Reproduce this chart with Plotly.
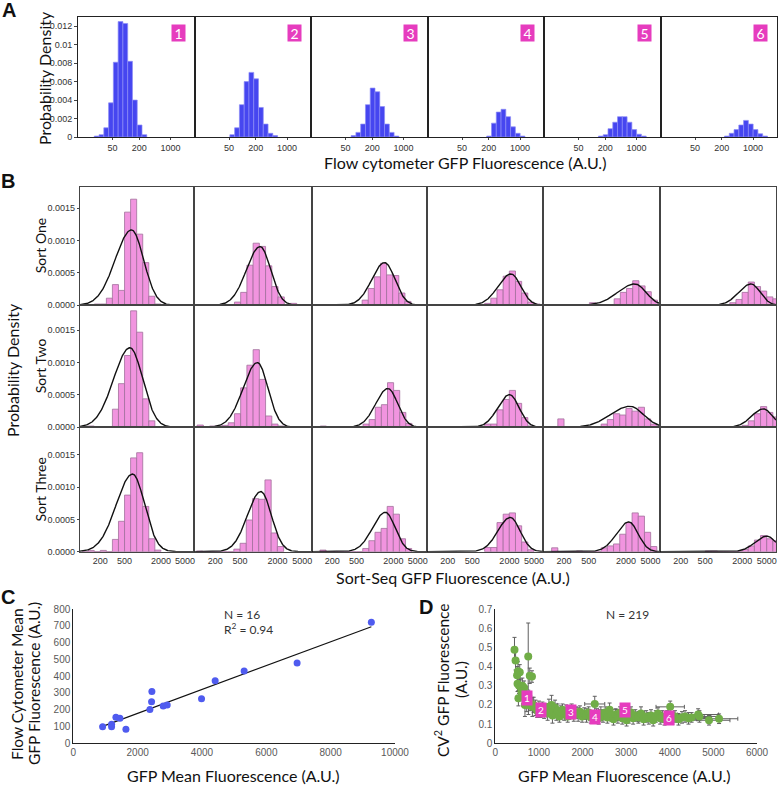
import numpy as np
import plotly.graph_objects as go

W, H = 778, 787

# ---------------- Panel A data (flow cytometer histograms) ----------------
A_BIN_EDGE0_LOG10 = 1.29      # log10 of lower edge of common bin 0
A_BIN_WIDTH_LOG10 = 0.107
A_FIRST_BIN = [0, 4, 5, 9, 8, 10]
A_DENSITY = [
    [0.0001, 0.00025, 0.001, 0.0037, 0.0081, 0.0125, 0.0123, 0.0082, 0.004, 0.0013, 0.00025],
    [0.00025, 0.001, 0.0035, 0.006, 0.007, 0.0063, 0.0032, 0.0014, 0.0004, 0.00015],
    [0.00015, 0.0005, 0.0014, 0.0035, 0.0053, 0.0049, 0.0033, 0.0014, 0.0005, 0.0001],
    [0.0001, 0.0015, 0.0027, 0.003, 0.0022, 0.0011, 0.0004, 0.0001],
    [0.0001, 0.00025, 0.0009, 0.0016, 0.0022, 0.0022, 0.0016, 0.0008, 0.0003, 0.0001],
    [0.0001, 0.0004, 0.0008, 0.0013, 0.0018, 0.0014, 0.0008, 0.00035, 0.0001],
]
A_XTICKS = [50, 200, 1000]
A_YTICKS = [0, 0.002, 0.004, 0.006, 0.008, 0.01, 0.012]
A_YTICKTEXT = ["0", "0.002", "0.004", "0.006", "0.008", "0.01", "0.012"]
A_LABELS = ["1", "2", "3", "4", "5", "6"]

# ---------------- Panel B data (Sort-Seq histograms, density x 1e-3) ----------------
B_ROWS = ["Sort One", "Sort Two", "Sort Three"]
B_BIN_WIDTH_LOG10 = 0.1
B_FIRST_EDGE_LOG10 = [
    [2.2, 2.41, 2.09, 2.9, 2.71, 3.1],
    [2.1, 2.01, 2.105, 2.9, 2.2, 2.9],
    [2.0, 2.0, 2.1, 2.9, 2.1, 2.7],
]
B_DENSITY_E3 = [
    [
        [0.02, 0.02, 0.11, 0.32, 0.23, 1.44, 1.64, 1.10, 0.66, 0.14, 0.02, 0, 0, 0.01],
        [0.01, 0, 0.05, 0.2, 0.62, 0.96, 0.91, 0.61, 0.29, 0.13, 0, 0.03],
        [0.01, 0, 0, 0, 0, 0, 0, 0.08, 0.26, 0.44, 0.65, 0.47, 0.46, 0.19, 0.06, 0.01],
        [0.03, 0.11, 0.24, 0.45, 0.53, 0.37, 0.19, 0.05, 0.02],
        [0.04, 0.01, 0, 0, 0.1, 0.2, 0.26, 0.38, 0.3, 0.21, 0.08],
        [0.04, 0.09, 0.2, 0.36, 0.29, 0.22, 0.13, 0.1],
    ],
    [
        [0.02, 0, 0.01, 0, 0.28, 0.675, 1.11, 1.8, 1.47, 0.44, 0.1],
        [0.035, 0, 0.02, 0.02, 0.03, 0.07, 0.21, 0.61, 0.96, 1.2, 0.74, 0.175, 0.05, 0.02],
        [0.02, 0, 0, 0, 0, 0, 0, 0.05, 0.12, 0.31, 0.35, 0.69, 0.57, 0.23, 0.06],
        [0.05, 0.05, 0.27, 0.43, 0.57, 0.37, 0.15, 0.02],
        [0.13, 0, 0, 0.01, 0.01, 0, 0, 0.05, 0.12, 0.21, 0.19, 0.29, 0.25, 0.31, 0.13, 0.05],
        [0.01, 0, 0, 0, 0.03, 0.1, 0.21, 0.32, 0.23, 0.16],
    ],
    [
        [0, 0.02, 0, 0.02, 0, 0.19, 0.47, 0.875, 1.45, 1.53, 0.7, 0.2, 0.025],
        [0.01, 0, 0, 0, 0, 0, 0.04, 0.13, 0.49, 0.82, 0.81, 1.11, 0.29, 0.08],
        [0.025, 0, 0, 0, 0, 0, 0, 0.05, 0.17, 0.3, 0.36, 0.7, 0.58, 0.2, 0.05],
        [0.065, 0.065, 0.45, 0.58, 0.6, 0.4, 0.15, 0.03],
        [0.06, 0, 0, 0, 0.01, 0, 0, 0, 0.06, 0.09, 0.12, 0.27, 0.45, 0.6, 0.55, 0.3, 0.08],
        [0.01, 0.01, 0, 0, 0, 0, 0.035, 0.09, 0.18, 0.25, 0.2, 0.17],
    ],
]
# fitted curves: peak fluorescence, peak density (x1e-3), left / right spread (decades)
B_FIT_PEAK = [
    [653, 1052, 1436, 2118, 2786, 2786],
    [615, 951, 1629, 2009, 2307, 4416],
    [679, 1079, 1479, 2065, 2223, 5012],
]
B_FIT_HEIGHT_E3 = [
    [1.165, 0.907, 0.66, 0.485, 0.33, 0.33],
    [1.23, 1.0, 0.6, 0.505, 0.325, 0.285],
    [1.2, 0.93, 0.61, 0.53, 0.46, 0.24],
]
B_FIT_SD_LEFT = [
    [0.27, 0.22, 0.21, 0.21, 0.28, 0.2],
    [0.27, 0.23, 0.2, 0.19, 0.31, 0.19],
    [0.27, 0.215, 0.21, 0.2, 0.2, 0.19],
]
B_FIT_SD_RIGHT = [
    [0.2, 0.17, 0.17, 0.16, 0.18, 0.15],
    [0.21, 0.17, 0.16, 0.155, 0.22, 0.15],
    [0.2, 0.17, 0.16, 0.16, 0.15, 0.15],
]
B_XTICKS = [200, 500, 2000, 5000]
B_YTICKS = [0, 0.0005, 0.001, 0.0015]

# ---------------- Panel C data ----------------
C_X = [911, 1190, 1190, 1325, 1449, 1636, 2381, 2433, 2443, 2795, 2919, 3986, 4410, 5311, 6957, 9265]
C_Y = [99, 113, 99, 155, 149, 83, 202, 248, 308, 222, 228, 266, 373, 431, 478, 721]
C_XTICKS = [0, 2000, 4000, 6000, 8000, 10000]

# ---------------- Panel D data ----------------
D_X = [440, 465, 755, 520, 560, 500, 790, 840, 510, 545, 580, 620, 660, 600, 530, 640, 700, 680,
       720, 760, 800, 850, 880, 920,
       960, 1000, 1040, 1080, 1120, 1150, 1200, 1230, 1260, 1290, 1310, 1340, 1370, 1400, 1430,
       1470, 1500, 1540, 1580, 1620, 1660, 1700, 1750, 1800, 1850, 1900, 1940, 1990, 2040, 2090,
       2140, 2190, 2280, 2320, 2370, 2420, 2470, 2520, 2570, 2620, 2660, 2710, 2760, 2810, 2860,
       2910, 2960, 3010, 3060, 3110, 3160, 3210, 3280, 3340, 3400, 3460, 3520, 3570, 3620, 3680,
       3730, 3780, 3830, 3880, 3940, 4010, 4060, 4120, 4200, 4280, 4350, 4430, 4500, 4650, 4680,
       4900, 5130]
D_Y = [0.487, 0.432, 0.452, 0.375, 0.37, 0.355, 0.352, 0.348, 0.31, 0.30, 0.295, 0.30, 0.29, 0.27,
       0.235, 0.26, 0.245, 0.2, 0.215, 0.2, 0.21, 0.19, 0.2, 0.185,
       0.17, 0.19, 0.165, 0.18, 0.16, 0.175, 0.155, 0.19, 0.17, 0.2, 0.145, 0.165, 0.185, 0.15,
       0.17, 0.14, 0.16, 0.175, 0.15, 0.165, 0.14, 0.155, 0.17, 0.145, 0.16, 0.15, 0.165, 0.14,
       0.155, 0.145, 0.16, 0.135, 0.205, 0.15, 0.13, 0.155, 0.14, 0.16, 0.135, 0.175, 0.145,
       0.125, 0.15, 0.14, 0.16, 0.13, 0.145, 0.12, 0.14, 0.16, 0.13, 0.145, 0.135, 0.155, 0.125,
       0.14, 0.13, 0.145, 0.12, 0.14, 0.155, 0.13, 0.14, 0.125, 0.14, 0.19, 0.13, 0.14, 0.125,
       0.135, 0.14, 0.13, 0.135, 0.15, 0.14, 0.12, 0.128]
D_EX = [40, 45, 60, 50, 50, 45, 60, 60, 60, 60, 60, 60, 55, 60, 50, 60, 70, 70, 70, 80, 80, 90, 90, 100,
        100, 100, 110, 110, 110, 120, 120, 120, 130, 130, 130, 140, 140, 140, 150, 150, 150, 160,
        160, 160, 170, 170, 180, 180, 190, 190, 200, 200, 210, 210, 220, 220, 230, 230, 240, 240,
        250, 250, 260, 260, 270, 270, 280, 280, 290, 290, 300, 300, 310, 310, 320, 320, 330, 330,
        340, 350, 350, 360, 360, 370, 370, 380, 380, 390, 390, 325, 410, 410, 420, 430, 440, 440,
        450, 470, 460, 480, 430]
D_EY = [0.065, 0.05, 0.175, 0.05, 0.04, 0.045, 0.04, 0.03, 0.04, 0.04, 0.04, 0.04, 0.035, 0.04, 0.04,
        0.04, 0.05, 0.06, 0.05, 0.05, 0.04, 0.05, 0.04, 0.04,
        0.035, 0.03, 0.03, 0.035, 0.03, 0.03, 0.035, 0.04, 0.03, 0.05, 0.04, 0.03, 0.04, 0.03, 0.035,
        0.03, 0.035, 0.03, 0.03, 0.035, 0.03, 0.03, 0.035, 0.03, 0.03, 0.035, 0.03, 0.03, 0.03,
        0.035, 0.03, 0.03, 0.04, 0.03, 0.03, 0.035, 0.03, 0.03, 0.03, 0.035, 0.03, 0.03, 0.03,
        0.035, 0.03, 0.03, 0.03, 0.03, 0.035, 0.03, 0.03, 0.03, 0.03, 0.035, 0.03, 0.03, 0.03,
        0.03, 0.03, 0.03, 0.03, 0.03, 0.03, 0.03, 0.03, 0.03, 0.03, 0.03, 0.03, 0.03, 0.03, 0.03,
        0.025, 0.03, 0.03, 0.025, 0.025]
D_LABEL_X = [720, 1048, 1724, 2279, 2981, 3978]
D_LABEL_Y = [0.237, 0.175, 0.165, 0.136, 0.172, 0.13]
D_LABELS = ["1", "2", "3", "4", "5", "6"]
D_XTICKS = [0, 1000, 2000, 3000, 4000, 5000, 6000]
D_YTICKS = [0, 0.1, 0.2, 0.3, 0.4, 0.5, 0.6, 0.7]

# ---------------- layout geometry (pixels) ----------------
A_COLS = [78, 194.5, 311, 427.5, 544, 660.5, 777]
A_TOP, A_BOT = 17, 137
A_XRANGE = [0.925, 3.537]
A_YRANGE = [0, 0.013]
B_COLS = [80, 194.3, 311.7, 427, 543.3, 660, 776]
B_ROW_EDGES = [187.3, 305.3, 427.3, 551.7]
B_XRANGE = [1.965, 3.851]
B_PX_PER_UNIT = 64.7e3
C_BOX = [73.3, 395, 609, 743.3]
D_BOX = [495.3, 757, 609, 743.3]

PINK = "#E63CBE"
TITLE_FONT = "Lato, Open Sans, sans-serif"
TICK_FONT = "Liberation Sans, Arial, sans-serif"


def xdom(x0, x1):
    return [x0 / W, x1 / W]


def ydom(y0, y1):
    return [1 - y1 / H, 1 - y0 / H]


fig = go.Figure()
layout = dict(width=W, height=H, margin=dict(l=0, r=0, t=0, b=0, pad=0, autoexpand=False),
              paper_bgcolor="white", plot_bgcolor="white", showlegend=False,
              font=dict(family=TICK_FONT, size=9, color="#333"))
counter = [0]


def new_axes(xa, ya):
    counter[0] += 1
    i = counter[0]
    kx = "xaxis" if i == 1 else f"xaxis{i}"
    ky = "yaxis" if i == 1 else f"yaxis{i}"
    rx = "x" if i == 1 else f"x{i}"
    ry = "y" if i == 1 else f"y{i}"
    xa["anchor"] = ry
    ya["anchor"] = rx
    xa["automargin"] = False
    ya["automargin"] = False
    layout[kx] = xa
    layout[ky] = ya
    return rx, ry


annotations = []

# ---------------- Panel A ----------------
for p in range(6):
    xa = dict(domain=xdom(A_COLS[p], A_COLS[p + 1]), range=A_XRANGE, showgrid=False, zeroline=False,
              showline=True, mirror=True, linecolor="#222", linewidth=1,
              tickmode="array", tickvals=list(np.log10(A_XTICKS)), ticktext=[str(t) for t in A_XTICKS],
              ticks="outside", ticklen=2, tickcolor="#444", tickfont=dict(size=9, color="#333"))
    ya = dict(domain=ydom(A_TOP, A_BOT), range=A_YRANGE, showgrid=False, zeroline=False,
              showline=True, mirror=True, linecolor="#222", linewidth=1,
              tickmode="array", tickvals=A_YTICKS, ticktext=A_YTICKTEXT,
              ticks="outside" if p == 0 else "", ticklen=3, tickcolor="#444",
              showticklabels=(p == 0), tickfont=dict(size=9, color="#333"))
    rx, ry = new_axes(xa, ya)
    dens = A_DENSITY[p]
    centers = [A_BIN_EDGE0_LOG10 + A_BIN_WIDTH_LOG10 * (A_FIRST_BIN[p] + k + 0.5) for k in range(len(dens))]
    fig.add_trace(go.Bar(x=centers, y=dens, width=A_BIN_WIDTH_LOG10, xaxis=rx, yaxis=ry,
                         marker=dict(color="#4646F0", line=dict(color="#8C8CF6", width=0.7)),
                         hoverinfo="skip"))
    annotations.append(dict(text=A_LABELS[p], x=(A_COLS[p + 1] - 16.5) / W, y=1 - 33 / H,
                            xref="paper", yref="paper", showarrow=False, bgcolor=PINK,
                            width=13, height=16, borderpad=0, xanchor="center", yanchor="middle",
                            font=dict(family=TITLE_FONT, size=14, color="white")))

# ---------------- Panel B ----------------
for r in range(3):
    y0, y1 = B_ROW_EDGES[r], B_ROW_EDGES[r + 1]
    yrange = [0, (y1 - y0) / B_PX_PER_UNIT]
    for c in range(6):
        xa = dict(domain=xdom(B_COLS[c], B_COLS[c + 1]), range=B_XRANGE, showgrid=False, zeroline=False,
                  showline=True, mirror=True, linecolor="#444", linewidth=1.2,
                  tickmode="array", tickvals=list(np.log10(B_XTICKS)), ticktext=[str(t) for t in B_XTICKS],
                  showticklabels=(r == 2), ticks="", tickfont=dict(size=9, color="#333"))
        ya = dict(domain=ydom(y0, y1), range=yrange, showgrid=False, zeroline=False,
                  showline=True, mirror=True, linecolor="#444", linewidth=1.2,
                  tickmode="array", tickvals=B_YTICKS, tickformat=".4f",
                  ticks="outside" if c == 0 else "", ticklen=2, tickcolor="#444",
                  showticklabels=(c == 0), tickfont=dict(size=9, color="#333"))
        rx, ry = new_axes(xa, ya)
        dens = [v * 1e-3 for v in B_DENSITY_E3[r][c]]
        centers = [B_FIRST_EDGE_LOG10[r][c] + B_BIN_WIDTH_LOG10 * (k + 0.5) for k in range(len(dens))]
        fig.add_trace(go.Bar(x=centers, y=dens, width=B_BIN_WIDTH_LOG10, xaxis=rx, yaxis=ry,
                             marker=dict(color="#F194DF", line=dict(color="#A2709C", width=0.8)),
                             hoverinfo="skip"))
        u = np.linspace(B_XRANGE[0], B_XRANGE[1], 300)
        mu = np.log10(B_FIT_PEAK[r][c])
        sd = np.where(u < mu, B_FIT_SD_LEFT[r][c], B_FIT_SD_RIGHT[r][c])
        curve = B_FIT_HEIGHT_E3[r][c] * 1e-3 * np.exp(-((u - mu) ** 2) / (2 * sd ** 2))
        fig.add_trace(go.Scatter(x=u, y=curve, mode="lines", xaxis=rx, yaxis=ry,
                                 line=dict(color="#111", width=1.4), hoverinfo="skip"))
    annotations.append(dict(text=B_ROWS[r], x=40 / W, y=1 - ((y0 + y1) / 2) / H, xref="paper", yref="paper",
                            showarrow=False, textangle=-90, xanchor="center", yanchor="middle",
                            font=dict(family=TITLE_FONT, size=14, color="#111")))

# ---------------- Panel C ----------------
xa = dict(domain=xdom(C_BOX[0], C_BOX[1]), range=[0, 10000], tickmode="array", tickvals=C_XTICKS,
          ticktext=[str(t) for t in C_XTICKS], showgrid=False, zeroline=False,
          showline=True, linecolor="#222", linewidth=1, ticks="", tickfont=dict(size=10, color="#595959"))
ya = dict(domain=ydom(C_BOX[2], C_BOX[3]), range=[0, 800], dtick=100, showgrid=False, zeroline=False,
          showline=True, linecolor="#222", linewidth=1, ticks="", tickfont=dict(size=10, color="#595959"))
rx, ry = new_axes(xa, ya)
coef = np.polyfit(C_X, C_Y, 1)
xs = np.array([min(C_X), max(C_X)])
fig.add_trace(go.Scatter(x=xs, y=np.polyval(coef, xs), mode="lines", xaxis=rx, yaxis=ry,
                         line=dict(color="#111", width=1.1), hoverinfo="skip"))
fig.add_trace(go.Scatter(x=C_X, y=C_Y, mode="markers", xaxis=rx, yaxis=ry,
                         marker=dict(color="#4F5BEF", size=7), hoverinfo="skip"))

# ---------------- Panel D ----------------
xa = dict(domain=xdom(D_BOX[0], D_BOX[1]), range=[0, 6000], tickmode="array", tickvals=D_XTICKS,
          ticktext=[str(t) for t in D_XTICKS], showgrid=False, zeroline=False,
          showline=True, linecolor="#222", linewidth=1, ticks="", tickfont=dict(size=10, color="#595959"))
ya = dict(domain=ydom(D_BOX[2], D_BOX[3]), range=[0, 0.7], tickmode="array",
          tickvals=D_YTICKS, ticktext=[f"{t:g}" for t in D_YTICKS],
          showgrid=False, zeroline=False,
          showline=True, linecolor="#222", linewidth=1, ticks="", tickfont=dict(size=10, color="#595959"))
rx_d, ry_d = new_axes(xa, ya)
fig.add_trace(go.Scatter(x=D_X, y=D_Y, mode="markers", xaxis=rx_d, yaxis=ry_d,
                         marker=dict(color="#70AD47", size=8),
                         error_x=dict(type="data", array=D_EX, color="#5f5f5f", thickness=1, width=2),
                         error_y=dict(type="data", array=D_EY, color="#5f5f5f", thickness=1, width=2),
                         hoverinfo="skip"))
for lx, ly, lt in zip(D_LABEL_X, D_LABEL_Y, D_LABELS):
    annotations.append(dict(text=lt, x=lx, y=ly, xref=rx_d, yref=ry_d, showarrow=False, bgcolor=PINK,
                            width=10, height=14, borderpad=0, xanchor="center", yanchor="middle",
                            font=dict(family=TITLE_FONT, size=10, color="white")))


# ---------------- text ----------------
def txt(t, x, y, size, angle=0, bold=False, family=TITLE_FONT, color="#111", xanchor="center"):
    annotations.append(dict(text=f"<b>{t}</b>" if bold else t, x=x / W, y=1 - y / H, xref="paper",
                            yref="paper", showarrow=False, textangle=angle, xanchor=xanchor,
                            yanchor="middle", font=dict(family=family, size=size, color=color)))


txt("A", 9, 10, 20, bold=True, family="Liberation Sans, Arial")
txt("B", 8, 181, 20, bold=True, family="Liberation Sans, Arial")
txt("C", 8, 597, 20, bold=True, family="Liberation Sans, Arial")
txt("D", 426, 607, 20, bold=True, family="Liberation Sans, Arial")
txt("Probability Density", 44, 78, 16, angle=-90)
txt("Flow cytometer GFP Fluorescence (A.U.)", 465, 162, 16)
txt("Probability Density", 12, 370, 16, angle=-90)
txt("Sort-Seq GFP Fluorescence (A.U.)", 453, 577, 16)
txt("Flow Cytometer Mean", 17, 684, 15.5, angle=-90)
txt("GFP Fluorescence (A.U.)", 34, 684, 15.5, angle=-90)
txt("GFP Mean Fluorescence (A.U.)", 233, 775, 16)
txt("N = 16", 222, 614, 12, xanchor="left", color="#333")
txt("R<sup>2</sup> = 0.94", 222, 629, 12, xanchor="left", color="#333")
txt("CV<sup>2</sup> GFP Fluorescence", 441, 680, 15.5, angle=-90)
txt("(A.U.)", 461, 680, 15.5, angle=-90)
txt("GFP Mean Fluorescence (A.U.)", 624, 775, 16)
txt("N = 219", 627, 614, 12, color="#333")

layout["annotations"] = annotations
fig.update_layout(**layout)
fig.write_html("out.html", config={"displayModeBar": False},
               post_script="document.body.style.margin='0px';document.body.style.overflow='hidden';")
